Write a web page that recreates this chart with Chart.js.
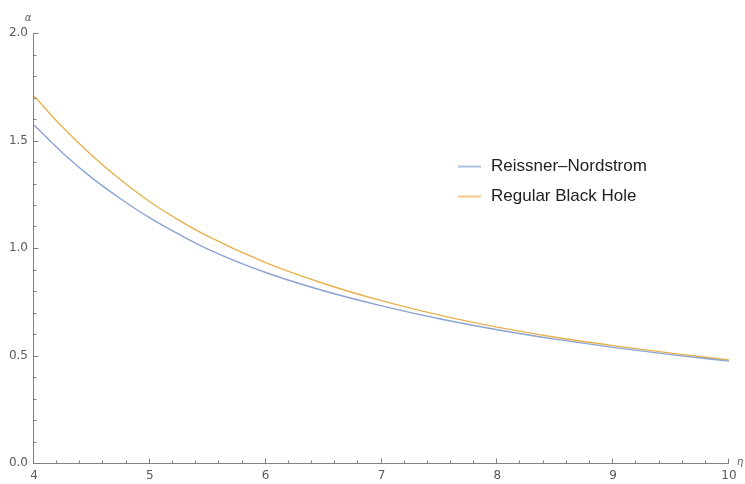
<!DOCTYPE html>
<html>
<head>
<meta charset="utf-8">
<script src="https://cdn.jsdelivr.net/npm/chart.js@4"></script>
<style>
  html, body { margin: 0; padding: 0; background: #fff; }
</style>
</head>
<body>
<canvas id="c" width="745" height="484"></canvas>
<script>
// Impact parameter η and deflection angle α for the two spacetimes
const etaValues = [4.0, 4.25, 4.5, 4.75, 5.0, 5.25, 5.5, 6.0, 6.5, 7.0, 7.5, 8.0, 8.5, 9.0, 9.5, 10.0];
const reissnerNordstrom = [1.572, 1.441, 1.326, 1.228, 1.140, 1.064, 0.995, 0.886, 0.801, 0.731, 0.671, 0.620, 0.576, 0.538, 0.504, 0.474];
const regularBlackHole  = [1.707, 1.560, 1.430, 1.316, 1.215, 1.130, 1.055, 0.932, 0.835, 0.755, 0.688, 0.632, 0.585, 0.546, 0.511, 0.479];
const seriesNames = ['Reissner\u2013Nordstrom', 'Regular Black Hole'];
const seriesColors = ['#8aa4d2', '#e8b14d'];
const xTickValues = [4, 5, 6, 7, 8, 9, 10];
const yTickValues = [0.0, 0.5, 1.0, 1.5, 2.0];

const toPoints = ys => etaValues.map((x, i) => ({ x, y: ys[i] }));

const AXIS_COLOR = '#808080';
const LABEL_COLOR = '#5a5a5a';

// Axis lines with inward major/minor ticks and the axis symbols
const frameAxes = {
  id: 'frameAxes',
  afterDatasetsDraw(chart) {
    const { ctx, chartArea: a, scales: { x, y } } = chart;
    ctx.save();
    ctx.strokeStyle = AXIS_COLOR;
    ctx.lineWidth = 1;
    const ax = Math.round(a.left) - 0.5;
    const ay = Math.round(a.bottom) + 0.5;
    ctx.beginPath();
    ctx.moveTo(ax, Math.round(a.top));
    ctx.lineTo(ax, ay);
    ctx.lineTo(Math.round(a.right), ay);
    ctx.stroke();
    // y ticks every 0.1, major every 0.5
    for (let k = 0; k <= 20; k++) {
      const py = Math.round(y.getPixelForValue(k / 10)) + 0.5;
      const len = (k % 5 === 0) ? 5 : 3;
      ctx.beginPath();
      ctx.moveTo(ax, py);
      ctx.lineTo(ax + len, py);
      ctx.stroke();
    }
    // x ticks every 0.2, major every 1
    for (let k = 0; k <= 30; k++) {
      const px = Math.round(x.getPixelForValue(4 + k / 5)) - 0.5;
      const len = (k % 5 === 0) ? 5 : 3;
      ctx.beginPath();
      ctx.moveTo(px, ay);
      ctx.lineTo(px, ay - len);
      ctx.stroke();
    }
    ctx.fillStyle = LABEL_COLOR;
    ctx.font = 'italic 10px "DejaVu Sans"';
    ctx.textAlign = 'center';
    ctx.textBaseline = 'middle';
    ctx.fillText('\u03b1', a.left - 6, a.top - 15);
    ctx.textAlign = 'left';
    ctx.fillText('\u03b7', a.right + 8, a.bottom - 1);
    ctx.restore();
  }
};

// Legend drawn inside the plot area
const innerLegend = {
  id: 'innerLegend',
  afterDraw(chart) {
    const { ctx } = chart;
    ctx.save();
    ctx.font = '17px "Liberation Sans", Arial, sans-serif';
    ctx.textBaseline = 'middle';
    ctx.textAlign = 'left';
    chart.data.datasets.forEach((ds, i) => {
      const cy = 166.5 + i * 30;
      ctx.strokeStyle = ds.borderColor;
      ctx.globalAlpha = 0.7;
      ctx.lineWidth = 2;
      ctx.beginPath();
      ctx.moveTo(458, cy);
      ctx.lineTo(481, cy);
      ctx.stroke();
      ctx.globalAlpha = 1;
      ctx.fillStyle = '#222';
      ctx.fillText(ds.label, 491, cy);
    });
    ctx.restore();
  }
};

new Chart(document.getElementById('c'), {
  type: 'line',
  data: {
    datasets: [
      { label: seriesNames[0], data: toPoints(reissnerNordstrom), borderColor: seriesColors[0] },
      { label: seriesNames[1], data: toPoints(regularBlackHole), borderColor: seriesColors[1] }
    ]
  },
  options: {
    responsive: false,
    animation: false,
    layout: { padding: { top: 33, right: 16, left: 0, bottom: 0 } },
    elements: {
      point: { radius: 0 },
      line: { borderWidth: 1.4, cubicInterpolationMode: 'monotone', fill: false }
    },
    plugins: { legend: { display: false }, tooltip: { enabled: false } },
    scales: {
      x: {
        type: 'linear',
        min: 4, max: 10,
        afterFit: s => { s.height = 21; },
        afterBuildTicks: s => { s.ticks = xTickValues.map(v => ({ value: v })); },
        grid: { display: false, drawTicks: false },
        border: { display: false },
        ticks: { color: LABEL_COLOR, font: { family: 'DejaVu Sans', size: 12 }, padding: 6, maxRotation: 0 }
      },
      y: {
        type: 'linear',
        min: 0, max: 2,
        afterFit: s => { s.width = 34; },
        afterBuildTicks: s => { s.ticks = yTickValues.map(v => ({ value: v })); },
        grid: { display: false, drawTicks: false },
        border: { display: false },
        ticks: { color: LABEL_COLOR, font: { family: 'DejaVu Sans', size: 12 }, padding: 6,
                 callback: v => Number(v).toFixed(1) }
      }
    }
  },
  plugins: [frameAxes, innerLegend]
});
</script>
</body>
</html>
